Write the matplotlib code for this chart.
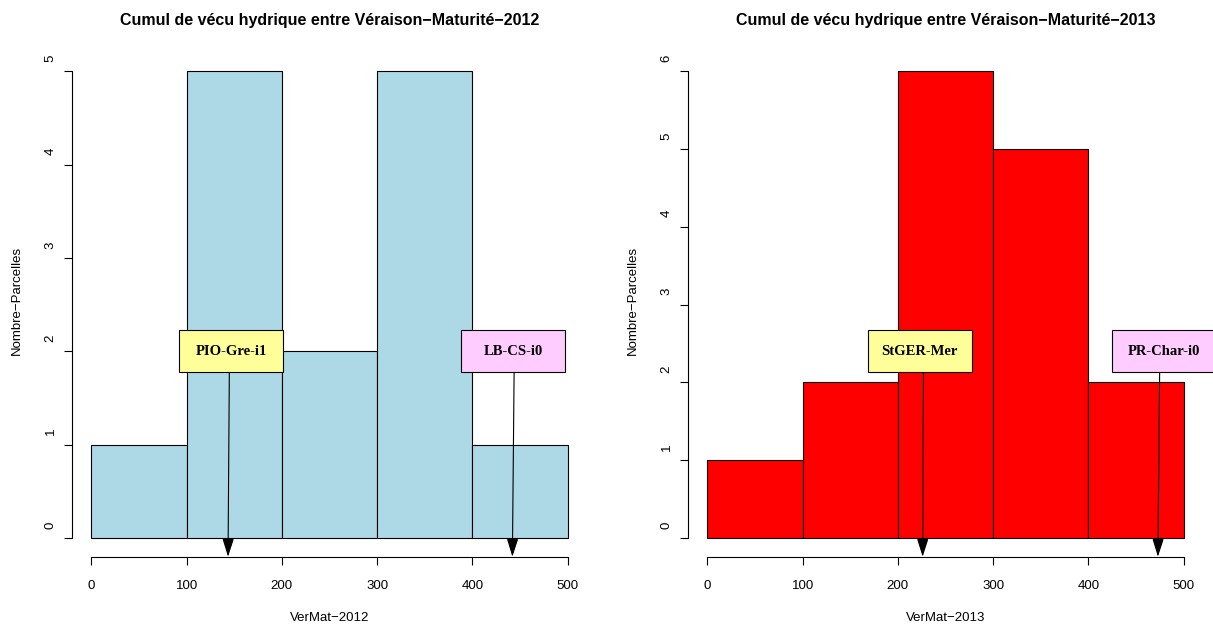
import numpy as np
import matplotlib.pyplot as plt
import matplotlib.transforms as mtransforms
from matplotlib.patches import Rectangle

plt.rcParams['font.family'] = ['Liberation Sans', 'DejaVu Sans']

# Histogram data (bins of 100)
bins = [0, 100, 200, 300, 400, 500]
counts_2012 = [1, 5, 2, 5, 1]
counts_2013 = [1, 2, 6, 5, 2]

# Annotated parcels: label, box centre, arrow start, arrow tip (x values)
labels_2012 = ['PIO-Gre-i1', 'LB-CS-i0']
box_x_2012 = [147, 443]
start_x_2012 = [145, 444]
tip_x_2012 = [143.5, 442]
label_y_2012 = 2.0

labels_2013 = ['StGER-Mer', 'PR-Char-i0']
box_x_2013 = [223, 479]
start_x_2013 = [227, 475]
tip_x_2013 = [226, 473]
label_y_2013 = 2.4

box_colors = ['#FFFF99', '#FFCCFF']

W, H = 1213, 626
fig = plt.figure(figsize=(W / 100, H / 100), dpi=100)


def panel(left_px, counts, color, year, labels, box_x, start_x, tip_x, label_y):
    ax = fig.add_axes([left_px / W, 1 - 556.7 / H, 514.4 / W, 504.2 / H])
    ymax = max(counts)
    ax.bar(bins[:-1], counts, width=np.diff(bins), align='edge',
           color=color, edgecolor='black', linewidth=0.8, zorder=2)
    ax.set_xlim(-20, 520)
    ax.set_ylim(-0.04 * ymax, 1.04 * ymax)

    for s in ['top', 'right']:
        ax.spines[s].set_visible(False)
    ax.spines['left'].set_bounds(0, ymax)
    ax.spines['bottom'].set_bounds(0, 500)
    for s in ['left', 'bottom']:
        ax.spines[s].set_linewidth(0.8)

    ax.set_xticks(bins)
    ax.set_xticklabels([str(b) for b in bins])
    yt = list(range(ymax + 1))
    ax.set_yticks(yt)
    ax.set_yticklabels([])
    ax.tick_params(axis='both', direction='out', length=5.8, width=0.8)
    ax.tick_params(axis='x', labelsize=9.5, pad=11)

    # y tick labels, rotated like R's las=0
    ytrans = mtransforms.offset_copy(ax.get_yaxis_transform(), fig=fig,
                                     x=-0.155, y=0.13, units='inches')
    for v in yt:
        ax.text(0, v, str(v), transform=ytrans, rotation=90,
                ha='right', va='center', fontsize=9.5)

    # label boxes with arrows
    for i, lab in enumerate(labels):
        ax.annotate('', xy=(tip_x[i], 0), xycoords=('data', 'axes fraction'),
                    xytext=(start_x[i], label_y), textcoords='data',
                    arrowprops=dict(arrowstyle='-|>,head_length=1.1,head_width=0.35',
                                    mutation_scale=10, color='black', lw=0.8,
                                    shrinkA=0, shrinkB=0),
                    annotation_clip=False, zorder=4)
        tr = fig.dpi_scale_trans + mtransforms.ScaledTranslation(box_x[i], label_y, ax.transData)
        ax.add_patch(Rectangle((-0.52, -0.208), 1.04, 0.416, transform=tr,
                               facecolor=box_colors[i], edgecolor='black',
                               linewidth=0.8, zorder=5, clip_on=False))
        ax.text(box_x[i], label_y, lab, ha='center', va='center',
                family=['Liberation Serif', 'DejaVu Serif'], fontweight='bold',
                fontsize=10.5, zorder=6, clip_on=False)

    cx = (left_px + 514.4 / 2) / W
    fig.text(cx, 1 - 20 / H, 'Cumul de vécu hydrique entre Véraison\u2212Maturité\u2212' + year,
             ha='center', va='center', fontsize=11.5, fontweight='bold')
    fig.text(cx, 1 - 618 / H, 'VerMat\u2212' + year, ha='center', va='center', fontsize=9.5)
    fig.text((left_px - 55) / W, 1 - 300 / H, 'Nombre\u2212Parcelles', rotation=90,
             ha='center', va='center', fontsize=9.5)
    return ax


panel(72.3, counts_2012, '#ADD8E6', '2012', labels_2012, box_x_2012,
      start_x_2012, tip_x_2012, label_y_2012)
panel(688.3, counts_2013, '#FF0000', '2013', labels_2013, box_x_2013,
      start_x_2013, tip_x_2013, label_y_2013)

fig.savefig('out.png', dpi=100)
